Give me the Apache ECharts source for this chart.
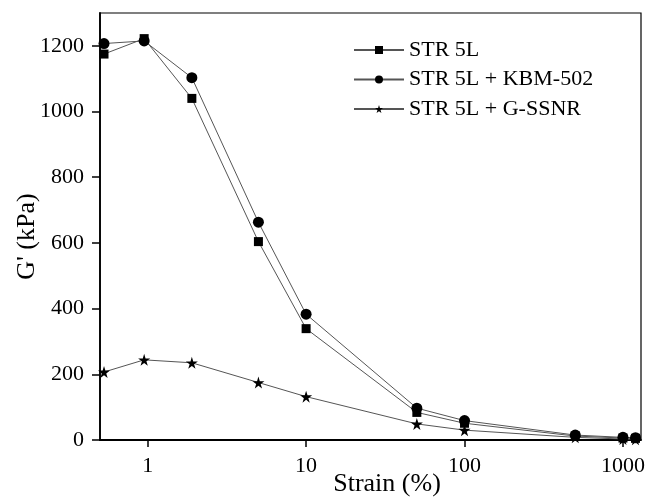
<!DOCTYPE html>
<html>
<head>
<meta charset="utf-8">
<script src="https://cdn.jsdelivr.net/npm/echarts@6/dist/echarts.min.js"></script>
<style>
  html, body { margin: 0; padding: 0; background: #fff; }
  #chart { width: 646px; height: 503px; }
</style>
</head>
<body>
<div id="chart"></div>
<script>
// strain (%) values
const strain = [0.53, 0.95, 1.9, 5, 10, 50, 100, 500, 1000, 1200];
// G' (kPa)
const str5l = [1175, 1222, 1040, 604, 339, 84, 51, 12, 6, 5];
const str5lKbm = [1207, 1215, 1103, 663, 383, 97, 59, 15, 8, 7];
const str5lGssnr = [207, 244, 235, 175, 132, 49, 30, 8, 3, 2];

const xTicks = [1, 10, 100, 1000];
const yTicks = [0, 200, 400, 600, 800, 1000, 1200];

const starPath = 'path://M50,0 L61,35 L98,35 L68,57 L79,91 L50,70 L21,91 L32,57 L2,35 L39,35 Z';
const font = 'Liberation Serif';

function pairs(ys) {
  return strain.map((x, i) => [x, ys[i]]);
}

function makeSeries(name, data, symbol, size) {
  return {
    name: name,
    type: 'line',
    data: pairs(data),
    symbol: symbol,
    symbolSize: size,
    showAllSymbol: true,
    lineStyle: { color: '#555', width: 1 },
    itemStyle: { color: '#000' },
    emphasis: { disabled: true }
  };
}

let chart = echarts.init(document.getElementById('chart'));
let option = {
  animation: false,
  grid: {
    left: 100, right: 5, top: 13, bottom: 63,
    outerBoundsMode: 'none',
    containLabel: false,
    show: true, borderColor: '#000', borderWidth: 1.2, backgroundColor: 'transparent'
  },
  legend: {
    left: 353, top: 39,
    padding: 0,
    orient: 'vertical',
    itemWidth: 50, itemHeight: 10, itemGap: 7.5,
    textStyle: { fontFamily: font, fontSize: 22, color: '#000', lineHeight: 22 },
    data: ['STR 5L', 'STR 5L + KBM-502', 'STR 5L + G-SSNR']
  },
  xAxis: {
    type: 'log',
    logBase: 10,
    min: 0.5,
    max: 1300,
    name: 'Strain (%)',
    nameLocation: 'middle',
    nameGap: 31,
    nameMoveOverlap: false,
    nameTextStyle: { fontFamily: font, fontSize: 26, color: '#000', padding: [0, 0, 0, 33] },
    axisLine: { lineStyle: { color: '#000', width: 1.8 } },
    axisTick: { inside: false, length: 7, lineStyle: { color: '#000', width: 1.5 }, customValues: xTicks },
    axisLabel: { fontFamily: font, fontSize: 22, color: '#000', margin: 15, customValues: xTicks, formatter: v => String(v) },
    splitLine: { show: false },
    minorTick: { show: false }
  },
  yAxis: {
    type: 'value',
    min: 0,
    max: 1300,
    name: "G' (kPa)",
    nameLocation: 'middle',
    nameGap: 60,
    nameMoveOverlap: false,
    nameRotate: 90,
    nameTextStyle: { fontFamily: font, fontSize: 26, color: '#000', padding: [0, 20, 0, 0] },
    axisLine: { show: true, lineStyle: { color: '#000', width: 1.8 } },
    axisTick: { show: true, inside: false, length: 8, lineStyle: { color: '#000', width: 1.5 }, customValues: yTicks },
    axisLabel: { fontFamily: font, fontSize: 22, color: '#000', margin: 16, customValues: yTicks, formatter: v => String(v) },
    splitLine: { show: false }
  },
  series: [
    makeSeries('STR 5L + KBM-502', str5lKbm, 'circle', 11),
    makeSeries('STR 5L', str5l, 'rect', 9),
    makeSeries('STR 5L + G-SSNR', str5lGssnr, starPath, 12)
  ]
};
chart.setOption(option);
</script>
</body>
</html>
